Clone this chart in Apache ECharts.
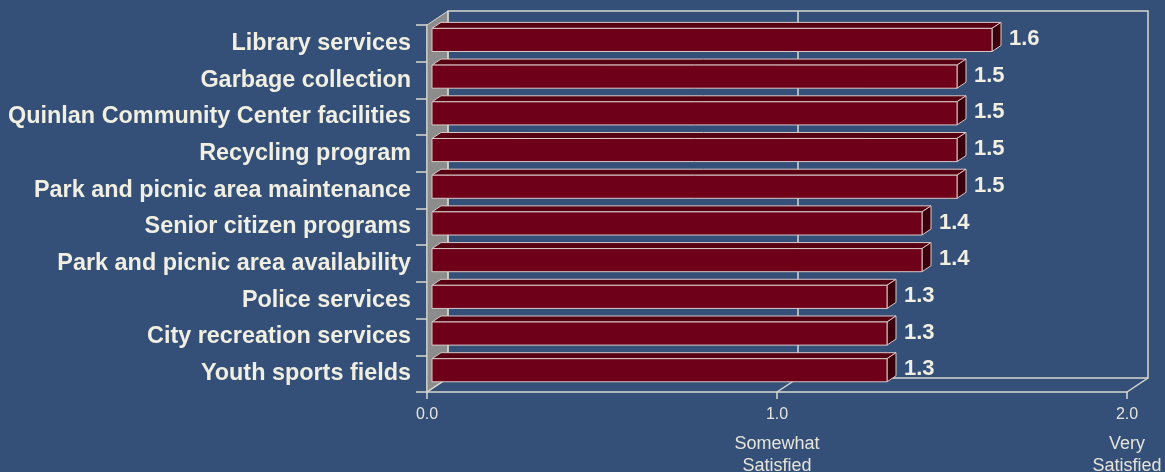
<!DOCTYPE html>
<html>
<head>
<meta charset="utf-8">
<script src="https://cdn.jsdelivr.net/npm/echarts@6/dist/echarts.min.js"></script>
<style>
  html, body { margin: 0; padding: 0; background: #345078; }
  #chart { width: 1165px; height: 472px; }
</style>
</head>
<body>
<div id="chart"></div>
<script>
// Satisfaction scores by service (0 = neutral, 1 = somewhat, 2 = very satisfied)
const categories = [
  "Library services",
  "Garbage collection",
  "Quinlan Community Center facilities",
  "Recycling program",
  "Park and picnic area maintenance",
  "Senior citizen programs",
  "Park and picnic area availability",
  "Police services",
  "City recreation services",
  "Youth sports fields"
];
const scores = [1.6, 1.5, 1.5, 1.5, 1.5, 1.4, 1.4, 1.3, 1.3, 1.3];
const scaleTicks = [0, 1, 2];
const tickLabels = ["0.0", "1.0", "2.0"];
const scaleNames = ["", "Somewhat\nSatisfied", "Very\nSatisfied"];

const FONT = '"Liberation Sans", Arial, Helvetica, sans-serif';
const TEXT = '#F1EFE2';
const LINE = '#D8D8D0';
const WALL = [21, -14];      // depth of the chart box
const BAR_FRONT = [5, -3.4]; // depth of a bar's front face
const BAR_BACK = [14, -9.4]; // depth of a bar's back face

function tickIndex(v) {
  return scaleTicks.indexOf(Math.round(v));
}

// Back wall, left side wall and floor edges of the pseudo-3D box
function renderBox(params, api) {
  const cs = params.coordSys;
  const x0 = cs.x, y0 = cs.y, y1 = cs.y + cs.height;
  const dx = WALL[0], dy = WALL[1];
  const xs = scaleTicks.map(v => api.coord([v, 0])[0]);
  const children = [];
  children.push({
    type: 'polygon',
    shape: { points: [[x0, y0], [x0 + dx, y0 + dy], [x0 + dx, y1 + dy], [x0, y1]] },
    style: { fill: '#8C8C8C', stroke: LINE, lineWidth: 1 }
  });
  children.push({
    type: 'rect',
    shape: { x: x0 + dx, y: y0 + dy, width: cs.width, height: cs.height },
    style: { fill: null, stroke: LINE, lineWidth: 1.5 }
  });
  xs.forEach((x, i) => {
    if (i > 0 && i < xs.length - 1) {
      children.push({
        type: 'line',
        shape: { x1: x + dx, y1: y0 + dy, x2: x + dx, y2: y1 + dy },
        style: { stroke: LINE, lineWidth: 1.5 }
      });
    }
    children.push({
      type: 'line',
      shape: { x1: x, y1: y1, x2: x + dx, y2: y1 + dy },
      style: { stroke: LINE, lineWidth: 1.5 }
    });
  });
  return { type: 'group', children: children };
}

// One extruded bar: front face, top face, right end face and value label
function renderBar(params, api) {
  const v = api.value(0);
  const idx = api.value(1);
  const start = api.coord([0, idx]);
  const end = api.coord([v, idx]);
  const band = api.size([0, 1])[1];
  const h = band * 0.63;
  const ox = BAR_FRONT[0], oy = BAR_FRONT[1];
  const dx = BAR_BACK[0] - ox, dy = BAR_BACK[1] - oy;
  const x0 = start[0] + ox, x1 = end[0] + ox;
  const yt = start[1] - h / 2 + oy, yb = start[1] + h / 2 + oy;
  const edge = { stroke: '#D9C8C8', lineWidth: 1 };
  return {
    type: 'group',
    children: [
      {
        type: 'polygon',
        shape: { points: [[x0, yt], [x1, yt], [x1 + dx, yt + dy], [x0 + dx, yt + dy]] },
        style: Object.assign({ fill: '#560012' }, edge)
      },
      {
        type: 'polygon',
        shape: { points: [[x1, yt], [x1 + dx, yt + dy], [x1 + dx, yb + dy], [x1, yb]] },
        style: Object.assign({ fill: '#3A000B' }, edge)
      },
      {
        type: 'rect',
        shape: { x: x0, y: yt, width: x1 - x0, height: h },
        style: Object.assign({ fill: '#6E0019' }, edge)
      },
      {
        type: 'text',
        x: x1 + dx + 8,
        y: start[1] + oy - 1,
        style: {
          text: v.toFixed(1),
          fill: TEXT,
          font: 'bold 22px ' + FONT,
          verticalAlign: 'middle',
          align: 'left'
        }
      }
    ]
  };
}

const chart = echarts.init(document.getElementById('chart'), null, { renderer: 'canvas' });
chart.setOption({
  backgroundColor: '#345078',
  animation: false,
  grid: {
    left: 427, right: 38, top: 25, bottom: 80,
    containLabel: false, outerBoundsMode: 'none'
  },
  xAxis: [
    {
      type: 'value', min: 0, max: 2, interval: 1,
      axisLine: { show: true, lineStyle: { color: LINE, width: 1.5 } },
      axisTick: { show: true, length: 7, lineStyle: { color: LINE, width: 1.5 } },
      splitLine: { show: false },
      axisLabel: {
        color: '#E6E4DA', fontFamily: FONT, fontSize: 16, margin: 15,
        formatter: v => tickLabels[tickIndex(v)]
      }
    },
    {
      type: 'value', min: 0, max: 2, interval: 1, position: 'bottom', offset: 33,
      axisLine: { show: false }, axisTick: { show: false }, splitLine: { show: false },
      axisLabel: {
        color: '#E6E4DA', fontFamily: FONT, fontSize: 18, lineHeight: 22, margin: 8,
        formatter: v => scaleNames[tickIndex(v)]
      }
    }
  ],
  yAxis: {
    type: 'category', inverse: true, data: categories,
    axisLine: { show: true, lineStyle: { color: LINE, width: 1.5 } },
    axisTick: { show: true, length: 11, lineStyle: { color: LINE, width: 1.5 } },
    axisLabel: {
      color: TEXT, fontFamily: FONT, fontSize: 23.4, fontWeight: 'bold', margin: 16,
      padding: [4, 0, 0, 0]
    }
  },
  series: [
    {
      type: 'custom', name: 'box', z: 1, silent: true,
      renderItem: renderBox,
      data: [[0, 0]],
      encode: { x: 0, y: 1 }
    },
    {
      type: 'custom', name: 'score', z: 2,
      renderItem: renderBar,
      data: scores.map((s, i) => [s, i]),
      encode: { x: 0, y: 1 }
    }
  ]
});
</script>
</body>
</html>
